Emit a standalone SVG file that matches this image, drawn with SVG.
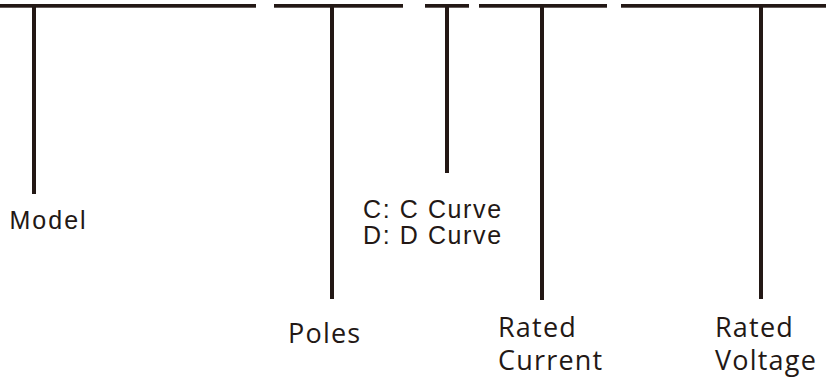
<svg xmlns="http://www.w3.org/2000/svg" width="826" height="380" viewBox="0 0 826 380">
  <style>
    .bar { fill: #231815; }
    .lead { stroke: #231815; stroke-width: 4; fill: none; }
    .t1 { font-family: "Liberation Sans", Arial, sans-serif; fill: #231815; }
    .t2 { font-family: "Open Sans", "Noto Sans", sans-serif; font-size: 27px; letter-spacing: 1.2px; fill: #231815; }
  </style>
  <rect width="826" height="380" fill="#ffffff"/>
  <g id="model">
    <rect class="bar" x="0" y="4" width="256" height="3.7"/>
    <text class="t1" x="9.5" y="228.5" font-size="25" letter-spacing="2">Model</text>
  </g>
  <g id="poles">
    <rect class="bar" x="274" y="4" width="129" height="3.7"/>
    <text class="t2" x="288" y="342.5">Poles</text>
  </g>
  <g id="curve">
    <rect class="bar" x="425" y="4" width="44" height="3.7"/>
    <text class="t1" x="363" y="217.5" font-size="25" letter-spacing="1.6">C: C Curve</text>
    <text class="t1" x="363" y="244" font-size="25" letter-spacing="1.6">D: D Curve</text>
  </g>
  <g id="rated-current">
    <rect class="bar" x="479" y="4" width="128" height="3.7"/>
    <text class="t2" x="498" y="336.5">Rated</text>
    <text class="t2" x="498" y="370">Current</text>
  </g>
  <g id="rated-voltage">
    <rect class="bar" x="621" y="4" width="205" height="3.7"/>
    <text class="t2" x="715" y="336.5">Rated</text>
    <text class="t2" x="715" y="370">Voltage</text>
  </g>
  <g id="connectors">
    <line class="lead" x1="34" y1="6" x2="34" y2="194"/>
    <line class="lead" x1="332" y1="6" x2="332" y2="299"/>
    <line class="lead" x1="447" y1="6" x2="447" y2="173"/>
    <line class="lead" x1="542" y1="6" x2="542" y2="300"/>
    <line class="lead" x1="761" y1="6" x2="761" y2="299"/>
  </g>
</svg>
